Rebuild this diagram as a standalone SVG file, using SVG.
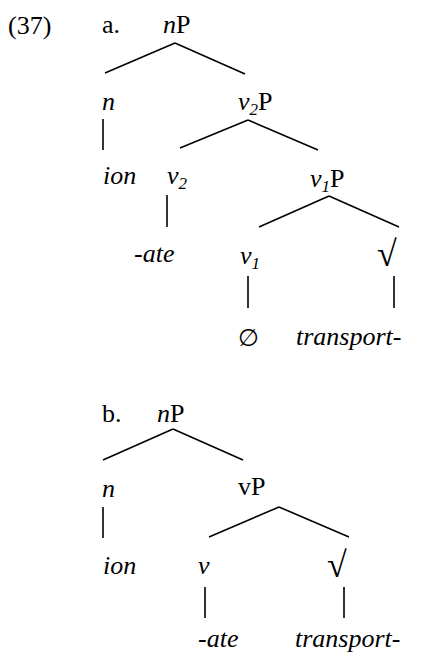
<svg xmlns="http://www.w3.org/2000/svg" width="438" height="662" viewBox="0 0 438 662">
<style>
text{font-family:"Liberation Serif","Times New Roman",serif;font-size:26px;fill:#000}
.i{font-style:italic}
.sub{font-size:17px;font-style:italic}
.rt{font-size:36px}
.e{stroke:#000;stroke-width:1.6;fill:none}
.sym{font-family:"DejaVu Sans",sans-serif;font-size:24px}
</style>
<rect width="438" height="662" fill="#fff"/>
<g id="label-37"><text x="8" y="34">(37)</text></g>
<g id="label-a"><text x="102" y="33">a.</text></g>
<g id="a-nP"><text x="163" y="33"><tspan class="i">n</tspan>P</text></g>
<g id="a-n"><text x="102" y="110" class="i">n</text></g>
<g id="a-v2P"><text x="238" y="110"><tspan class="i">v</tspan><tspan class="sub" dy="5">2</tspan><tspan dy="-5">P</tspan></text></g>
<g id="a-ion"><text x="103" y="184" class="i">ion</text></g>
<g id="a-v2"><text x="167" y="184"><tspan class="i">v</tspan><tspan class="sub" dy="5">2</tspan></text></g>
<g id="a-v1P"><text x="310" y="187"><tspan class="i">v</tspan><tspan class="sub" dy="5">1</tspan><tspan dy="-5">P</tspan></text></g>
<g id="a-ate"><text x="134" y="262" class="i">-ate</text></g>
<g id="a-v1"><text x="240" y="264"><tspan class="i">v</tspan><tspan class="sub" dy="5">1</tspan></text></g>
<g id="a-root"><text x="377" y="266" class="rt">√</text></g>
<g id="a-null"><text x="238" y="346" class="sym">∅</text></g>
<g id="a-transport"><text x="296" y="345" class="i">transport-</text></g>
<g id="label-b"><text x="102" y="422">b.</text></g>
<g id="b-nP"><text x="157" y="422"><tspan class="i">n</tspan>P</text></g>
<g id="b-n"><text x="102" y="497" class="i">n</text></g>
<g id="b-vP"><text x="238" y="495">vP</text></g>
<g id="b-ion"><text x="103" y="574" class="i">ion</text></g>
<g id="b-v"><text x="198" y="574" class="i">v</text></g>
<g id="b-root"><text x="327" y="577" class="rt">√</text></g>
<g id="b-ate"><text x="198" y="647" class="i">-ate</text></g>
<g id="b-transport"><text x="295" y="647" class="i">transport-</text></g>
<g id="connectors" class="e">
<path d="M175 43 L105 73 M175 43 L245 74"/>
<path d="M103 119 V150"/>
<path d="M248 120 L180 148 M248 120 L318 150"/>
<path d="M167 195 V227"/>
<path d="M329 196 L259 227 M329 196 L399 227"/>
<path d="M248 276 V308 M394 276 V308"/>
<path d="M173 429 L103 460 M173 429 L243 460"/>
<path d="M103 507 V538"/>
<path d="M279 507 L209 537 M279 507 L349 537"/>
<path d="M205 587 V618 M344 587 V618"/>
</g>
</svg>
